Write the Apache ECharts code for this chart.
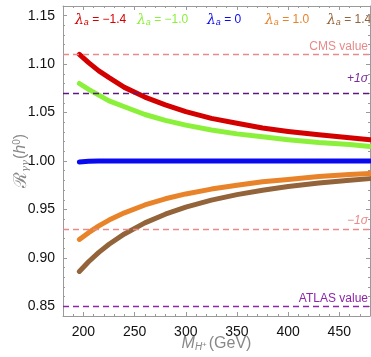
<!DOCTYPE html>
<html><head><meta charset="utf-8">
<script src="https://cdn.jsdelivr.net/npm/echarts@6/dist/echarts.min.js"></script>
<style>html,body{margin:0;padding:0;background:#fff}#c{width:371px;height:357px}</style>
</head><body><div id="c"></div>
<script>
// ---- data ----
var masses     = [196, 205, 215, 225, 240, 260, 280, 300, 325, 350, 375, 400, 430, 460, 480];
var redVals    = [1.110, 1.1015, 1.093, 1.086, 1.076, 1.066, 1.058, 1.051, 1.044, 1.039, 1.034, 1.0305, 1.027, 1.024, 1.022];
var greenVals  = [1.080, 1.074, 1.068, 1.062, 1.056, 1.048, 1.042, 1.037, 1.032, 1.028, 1.025, 1.022, 1.019, 1.017, 1.015];
var blueVals   = [0.999, 0.9997, 1.000, 1.000, 1.000, 1.000, 1.000, 1.000, 1.000, 1.000, 1.000, 1.000, 1.000, 1.000, 1.000];
var orangeVals = [0.919, 0.926, 0.933, 0.939, 0.9465, 0.9546, 0.961, 0.966, 0.971, 0.975, 0.9786, 0.981, 0.984, 0.986, 0.987];
var brownVals  = [0.886, 0.896, 0.9057, 0.9141, 0.9247, 0.9361, 0.9451, 0.9524, 0.9596, 0.9653, 0.9698, 0.9736, 0.9772, 0.9802, 0.9818];
var seriesLabels = ['\u22121.4', '\u22121.0', '0', '1.0', '1.4'];
var refValues = [1.11, 1.07, 0.93, 0.85];
var refLabels = ['CMS value', '+1\u03c3', '\u22121\u03c3', 'ATLAS value'];
var xMajor = [200, 250, 300, 350, 400, 450];
var yMajor = [0.85, 0.90, 0.95, 1.00, 1.05, 1.10, 1.15];

// ---- styles ----
var colors = ['#d40000', '#8af03a', '#0a0af0', '#e8832a', '#93633a'];
var refColors = ['#e98a8a', '#5e1a7e', '#e98a8a', '#8e24aa'];
var refTextColors = ['#e98a8a', '#7b2a9a', '#e98a8a', '#8e24aa'];
var refItalic = [false, true, true, false];
var refDist = [2, 9, 2, 2];
var frame = '#9a9a9a';

function pairs(vals){ return masses.map(function(m,i){ return [m, vals[i]]; }); }
var allVals = [redVals, greenVals, blueVals, orangeVals, brownVals];

var series = allVals.map(function(v, i){
  return {type:'line', data: pairs(v), smooth: false, showSymbol:false, silent:true,
    xAxisIndex:0, yAxisIndex:0, sampling: null,
    lineStyle:{color: colors[i], width: 5, join:'round', cap:'round'}, z: 3};
});
series.push({type:'line', data: [], silent:true,
  markLine: {symbol:'none', silent:true, animation:false,
    data: refValues.map(function(v,i){
      return {yAxis: v, lineStyle:{color: refColors[i], type:[6,4], width:1.4},
        label:{show:true, position:'insideEndTop', formatter: refLabels[i], color: refTextColors[i],
          fontSize: 12, fontFamily:'Liberation Sans', fontStyle: refItalic[i]?'italic':'normal', distance:[2,refDist[i]]}};
    })}});

var xBase = {type:'value', min:180, max:480, gridIndex:0};
var yBase = {type:'value', min:0.84, max:1.16, gridIndex:0};
function isMult(v, step){ var r = v/step; return Math.abs(r - Math.round(r)) < 1e-6; }

var xAxes = [
  Object.assign({}, xBase, {position:'bottom', interval:10,
    axisLine:{show:true, lineStyle:{color:frame}},
    axisTick:{show:true, inside:true, length:2, lineStyle:{color:frame}},
    axisLabel:{show:true, color:'#111', fontSize:14, fontFamily:'Liberation Sans', margin:9,
      formatter:function(v){ return isMult(v,50)? String(Math.round(v)) : ''; }},
    splitLine:{show:false},
    name:'{m|M}{s|H}{p|+}{g|(GeV)}', nameLocation:'middle', nameGap:20, nameMoveOverlap:false,
    nameTextStyle:{rich:{
      m:{fontSize:16, fontStyle:'italic', color:'#888', fontFamily:'Liberation Sans'},
      s:{fontSize:10, fontStyle:'italic', color:'#888', fontFamily:'Liberation Sans', verticalAlign:'bottom', padding:[6,0,0,0]},
      p:{fontSize:8, color:'#888', fontFamily:'Liberation Sans', verticalAlign:'bottom', padding:[0,2,3,0]},
      g:{fontSize:16, color:'#888', fontFamily:'Liberation Sans'}}}}),
  Object.assign({}, xBase, {position:'bottom', axisLine:{show:false},
    axisTick:{show:true, inside:true, length:4, customValues:xMajor, lineStyle:{color:frame}},
    axisLabel:{show:false}, splitLine:{show:false}}),
  Object.assign({}, xBase, {position:'top', interval:10,
    axisLine:{show:true, lineStyle:{color:frame}},
    axisTick:{show:true, inside:true, length:2, lineStyle:{color:frame}},
    axisLabel:{show:false}, splitLine:{show:false}}),
  Object.assign({}, xBase, {position:'top', axisLine:{show:false},
    axisTick:{show:true, inside:true, length:4, customValues:xMajor, lineStyle:{color:frame}},
    axisLabel:{show:false}, splitLine:{show:false}})
];
var yAxes = [
  Object.assign({}, yBase, {position:'left', interval:0.01,
    axisLine:{show:true, lineStyle:{color:frame}},
    axisTick:{show:true, inside:true, length:2, lineStyle:{color:frame}},
    axisLabel:{show:true, color:'#111', fontSize:14, fontFamily:'Liberation Sans', margin:8,
      formatter:function(v){ return isMult(v,0.05)? v.toFixed(2) : ''; }},
    splitLine:{show:false},
    name:'{r|\u211b}{s|\u03b3\u03b3}{n|(}{h|h}{p|0}{n|)}', nameLocation:'middle', nameGap:33, nameRotate:90, nameMoveOverlap:false,
    nameTextStyle:{rich:{
      r:{fontSize:18, color:'#888', fontFamily:'DejaVu Serif'},
      s:{fontSize:10, fontStyle:'italic', color:'#888', fontFamily:'DejaVu Serif', verticalAlign:'bottom', padding:[7,1,0,0]},
      n:{fontSize:16, color:'#888', fontFamily:'Liberation Sans'},
      h:{fontSize:16, fontStyle:'italic', color:'#888', fontFamily:'Liberation Sans'},
      p:{fontSize:10, color:'#888', fontFamily:'Liberation Sans', verticalAlign:'top', padding:[0,0,6,0]}}}}),
  Object.assign({}, yBase, {position:'left', axisLine:{show:false},
    axisTick:{show:true, inside:true, length:4, customValues:yMajor, lineStyle:{color:frame}},
    axisLabel:{show:false}, splitLine:{show:false}}),
  Object.assign({}, yBase, {position:'right', interval:0.01,
    axisLine:{show:true, lineStyle:{color:frame}},
    axisTick:{show:true, inside:true, length:2, lineStyle:{color:frame}},
    axisLabel:{show:false}, splitLine:{show:false}}),
  Object.assign({}, yBase, {position:'right', axisLine:{show:false},
    axisTick:{show:true, inside:true, length:4, customValues:yMajor, lineStyle:{color:frame}},
    axisLabel:{show:false}, splitLine:{show:false}})
];

var legendX = [75, 137, 207, 265, 327];
var graphics = seriesLabels.map(function(t, i){
  return {type:'text', left: legendX[i], top: 13, silent:true,
    style:{text:'{l|\u03bb}{a|a}{t| = ' + t + '}', rich:{
      l:{fontSize:14, fontStyle:'italic', fill: colors[i], fontFamily:'DejaVu Serif'},
      a:{fontSize:9, fontStyle:'italic', fill: colors[i], fontFamily:'Liberation Sans', verticalAlign:'bottom', padding:[5,0,0,0]},
      t:{fontSize:12, fill: colors[i], fontFamily:'Liberation Sans'}}}};
});

var chart = echarts.init(document.getElementById('c'), null, {renderer:'canvas'});
chart.setOption({
  animation:false,
  backgroundColor:'#fff',
  grid:{left:63, right:1, top:6, bottom:41, containLabel:false, outerBoundsMode:'none'},
  xAxis: xAxes,
  yAxis: yAxes,
  series: series,
  graphic: graphics
});
</script></body></html>
